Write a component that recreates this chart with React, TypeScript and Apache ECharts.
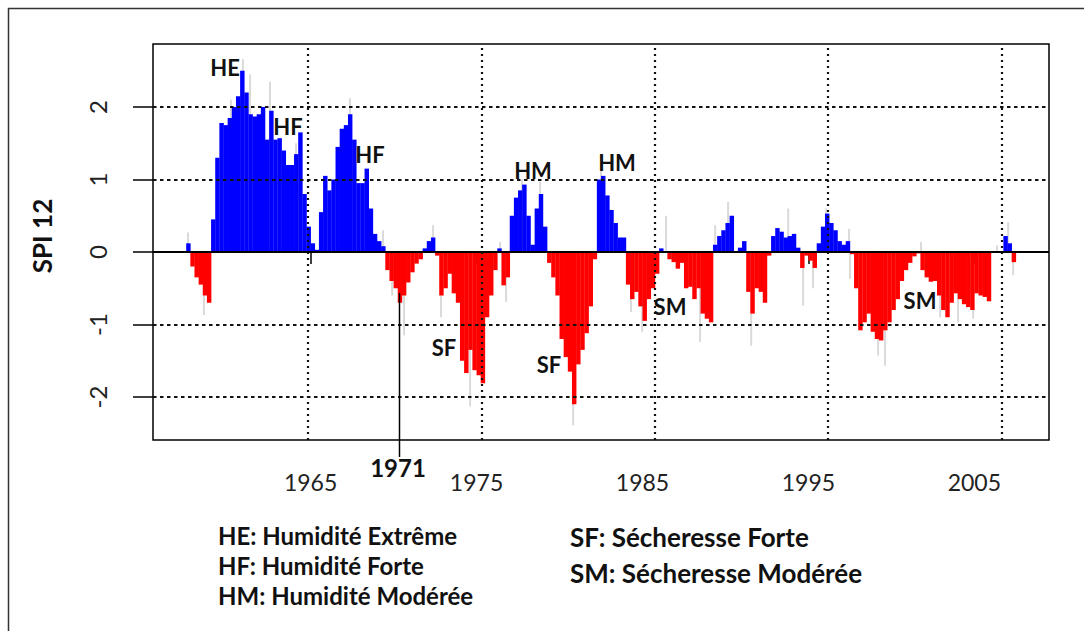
import React, { useEffect, useRef } from "react";
import * as echarts from "echarts";

// ---- Data ----
// SPI 12, quarterly values starting 1957.5
const startYear = 1957.5;
const step = 0.25;
const spi12 = [
  0.12, -0.2, -0.35, -0.45, -0.6, -0.7, 0.45, 1.3, 1.78, 1.75,
  1.85, 2.0, 2.15, 2.5, 2.2, 1.9, 1.87, 1.9, 2.0, 1.55,
  1.95, 1.55, 1.57, 1.4, 1.2, 1.2, 1.35, 1.65, 0.8, 0.35,
  0.12, 0.03, 0.55, 1.05, 0.85, 1.0, 1.45, 1.7, 1.75, 1.9,
  1.55, 0.95, 0.95, 1.15, 0.6, 0.25, 0.15, 0.08, -0.25, -0.4,
  -0.5, -0.7, -0.6, -0.42, -0.28, -0.16, -0.1, 0.05, 0.15, 0.2,
  -0.05, -0.6, -0.5, -0.3, -0.57, -0.7, -1.5, -1.67, -1.35, -1.63,
  -1.7, -1.81, -0.9, -0.6, -0.25, 0.05, -0.46, -0.35, 0.5, 0.75,
  0.85, 0.93, 0.5, 0.1, 0.6, 0.8, 0.35, -0.15, -0.35, -0.6,
  -1.2, -1.45, -1.65, -2.1, -1.55, -1.35, -1.12, -0.75, -0.1, 1.0,
  1.05, 0.78, 0.58, 0.4, 0.2, 0.2, -0.45, -0.65, -0.55, -0.75,
  -0.95, -0.65, -0.5, -0.3, 0.05, 0, -0.1, -0.14, -0.23, -0.15,
  -0.5, -0.48, -0.65, -0.5, -0.85, -0.92, -0.97, 0.1, 0.22, 0.3,
  0.4, 0.5, 0, 0.06, 0.15, -0.55, -0.85, -0.5, -0.55, -0.7,
  -0.05, 0.22, 0.33, 0.28, 0.2, 0.22, 0.25, 0.06, -0.22, -0.05,
  -0.12, -0.22, 0.12, 0.35, 0.53, 0.4, 0.3, 0.15, 0.1, 0.15,
  -0.03, -0.5, -1.08, -0.97, -0.85, -1.1, -1.2, -1.22, -1.08, -0.97,
  -0.8, -0.65, -0.4, -0.25, -0.15, -0.06, -0.02, -0.25, -0.35, -0.41,
  -0.4, -0.6, -0.8, -0.9, -0.7, -0.57, -0.65, -0.72, -0.76, -0.8,
  -0.57, -0.6, -0.62, -0.68, 0, 0, 0, 0.22, 0.12, -0.14,
];

// Light grey monthly spikes that stick out of the coloured bars
const greyYears = [
  1957.61, 1958.57, 1960.2, 1960.92, 1961.35, 1962.55, 1964.12, 1967.37, 1968.7, 1969.36,
  1969.91, 1970.63, 1972.38, 1972.86, 1974.61, 1976.42, 1976.78, 1977.74, 1978.83, 1980.82,
  1982.5, 1984.31, 1984.98, 1986.42, 1988.47, 1989.38, 1990.16, 1991.55, 1993.78, 1994.68,
  1995.28, 1996.07, 1997.45, 1997.51, 1999.2, 1999.62, 2001.79, 2002.94, 2004.02, 2004.93,
  2006.37, 2007.04, 2007.34,
];
const greyValues = [
  0.27, -0.87, 2.1, 2.66, 2.45, 2.35, 1.5, 2.12, 0.5, 0.3,
  -0.6, -1.15, 0.37, -0.9, -2.13, 0.14, -0.69, 1.0, 0.97, -2.39,
  1.12, -0.83, -1.1, 0.5, -1.24, 0.37, 0.69, -1.29, 0.6, -0.74,
  -0.5, 0.6, 0.32, -0.37, -1.43, -1.57, 0.14, -0.9, -0.97, -0.92,
  0.09, 0.41, -0.32,
];

const xTickYears = [1965, 1975, 1985, 1995, 2005];
const yTickValues = [-2, -1, 0, 1, 2];
// dotted grid lines (as placed in the original figure)
const gridYears = [1964.84, 1975.33, 1985.75, 1996.18, 2006.67];
const gridValues = [-2, -1, 1, 2];

const annotations = [
  { text: "HE", x: 225, y: 67 },
  { text: "HF", x: 288, y: 126 },
  { text: "HF", x: 370, y: 154 },
  { text: "HM", x: 533, y: 170 },
  { text: "HM", x: 617, y: 162 },
  { text: "SF", x: 444, y: 347 },
  { text: "SF", x: 549, y: 364 },
  { text: "SM", x: 670, y: 306 },
  { text: "SM", x: 920, y: 300 },
];
const legendLeft = ["HE: Humidité Extrême", "HF: Humidité Forte", "HM: Humidité Modérée"];
const legendRight = ["SF: Sécheresse Forte", "SM: Sécheresse Modérée"];

const FONT = 'Lato, "Liberation Sans", Arial, sans-serif';

export default function App() {
  const ref = useRef<HTMLDivElement>(null);

  useEffect(() => {
    if (!ref.current) return;
    const chart = echarts.init(ref.current, undefined, { renderer: "svg" });

    const barData = spi12.map((v, i) => [startYear + i * step, v]);
    const greyData = greyYears.map((y, i) => [y, greyValues[i]]);

    const textStyle = (text: string, x: number, y: number, font: string, align = "center") => ({
      type: "text",
      x,
      y,
      silent: true,
      style: {
        text,
        font,
        fill: "#111",
        align,
        verticalAlign: "middle",
        textAlign: align,
        textVerticalAlign: "middle",
      },
    });

    const graphic: any[] = [
      {
        type: "rect",
        silent: true,
        z: -10,
        shape: { x: 8.5, y: 8.5, width: 1300, height: 900 },
        style: { fill: "none", stroke: "#333", lineWidth: 1.5 },
      },
      {
        type: "text",
        x: 42,
        y: 236,
        rotation: Math.PI / 2,
        silent: true,
        style: {
          text: "SPI 12",
          font: `bold 26px ${FONT}`,
          fill: "#111",
          align: "center",
          verticalAlign: "middle",
          textAlign: "center",
          textVerticalAlign: "middle",
        },
      },
      {
        type: "line",
        silent: true,
        z: 50,
        shape: { x1: 399.5, y1: 293, x2: 399.5, y2: 457 },
        style: { stroke: "#000", lineWidth: 1.5 },
      },
      textStyle("1971", 398, 467, `bold 24px ${FONT}`),
      ...annotations.map((a) => ({ ...textStyle(a.text, a.x, a.y, `bold 22px ${FONT}`), z: 60 })),
      ...legendLeft.map((t, i) => textStyle(t, 218, 535 + i * 30, `bold 24px ${FONT}`, "left")),
      ...legendRight.map((t, i) => textStyle(t, 570, 537 + i * 36, `bold 26px ${FONT}`, "left")),
    ];

    const option: any = {
      animation: false,
      backgroundColor: "#fff",
      grid: {
        left: 153,
        top: 44,
        width: 896,
        height: 396,
        show: true,
        borderColor: "#000",
        borderWidth: 1.5,
        backgroundColor: "transparent",
      },
      xAxis: {
        type: "value",
        min: 1955.5,
        max: 2009.5,
        splitLine: { show: false },
        axisLine: { show: false },
        axisTick: {
          show: true,
          customValues: xTickYears,
          length: 12,
          lineStyle: { color: "#000", width: 1.5 },
        },
        axisLabel: {
          customValues: xTickYears,
          fontSize: 23,
          fontFamily: FONT,
          color: "#222",
          margin: 30,
          formatter: (v: number) => String(v),
        },
      },
      yAxis: {
        type: "value",
        min: -2.593,
        max: 2.869,
        splitLine: { show: false },
        axisLine: { show: false },
        axisTick: {
          show: true,
          customValues: yTickValues,
          length: 20,
          lineStyle: { color: "#000", width: 1.5 },
        },
        axisLabel: {
          customValues: yTickValues,
          rotate: 90,
          fontSize: 24,
          fontFamily: FONT,
          color: "#222",
          margin: 44,
          formatter: (v: number) => String(v),
        },
      },
      series: [
        {
          type: "line",
          data: [],
          z: 1,
          silent: true,
          markLine: {
            silent: true,
            symbol: ["none", "none"],
            label: { show: false },
            data: [
              ...gridYears.map((x) => ({ xAxis: x, lineStyle: { color: "#111", width: 2.2, type: [2, 4] } })),
              ...gridValues.map((v) => ({ yAxis: v, lineStyle: { color: "#111", width: 1.8, type: [3.5, 3.5] } })),
            ],
          },
        },
        {
          type: "custom",
          name: "grey",
          z: 2,
          silent: true,
          data: greyData,
          encode: { x: 0, y: 1 },
          renderItem: (_p: any, api: any) => {
            const x = api.value(0);
            const v = api.value(1);
            const p0 = api.coord([x, 0]);
            const p1 = api.coord([x, v]);
            return {
              type: "line",
              shape: { x1: p0[0], y1: p0[1], x2: p1[0], y2: p1[1] },
              style: { stroke: "#dadada", lineWidth: 2 },
            };
          },
        },
        {
          type: "custom",
          name: "SPI 12",
          z: 3,
          silent: true,
          data: barData,
          encode: { x: 0, y: 1 },
          renderItem: (_p: any, api: any) => {
            const x = api.value(0);
            const v = api.value(1);
            const p0 = api.coord([x, 0]);
            const p1 = api.coord([x + step, v]);
            return {
              type: "rect",
              shape: {
                x: p0[0],
                y: Math.min(p0[1], p1[1]),
                width: p1[0] - p0[0] + 0.3,
                height: Math.abs(p1[1] - p0[1]),
              },
              style: { fill: v >= 0 ? "#0000ff" : "#ff0000", stroke: "none" },
            };
          },
        },
        {
          type: "line",
          data: [],
          z: 4,
          silent: true,
          markLine: {
            silent: true,
            symbol: ["none", "none"],
            label: { show: false },
            lineStyle: { color: "#000", width: 2, type: "solid" },
            data: [{ yAxis: 0 }],
          },
        },
      ],
      graphic,
    };

    chart.setOption(option);
    return () => chart.dispose();
  }, []);

  return (
    <div
      ref={ref}
      style={{ position: "fixed", left: 0, top: 0, width: 1084, height: 631, background: "#fff" }}
    />
  );
}
